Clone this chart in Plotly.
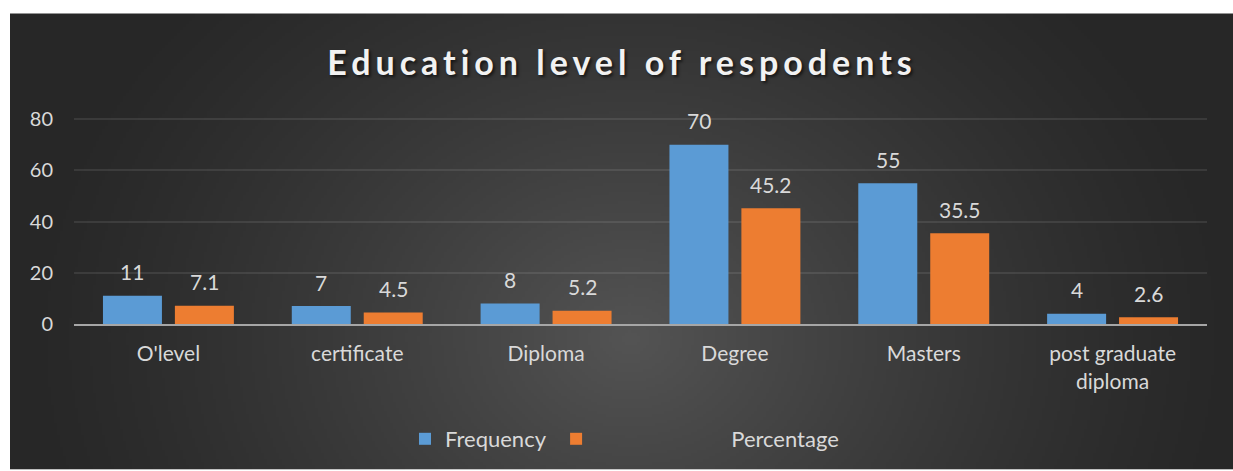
import base64, struct, zlib
import numpy as np
import plotly.graph_objects as go

categories = ["O'level", "certificate", "Diploma", "Degree", "Masters", "post graduate<br>diploma"]
frequency = [11, 7, 8, 70, 55, 4]
percentage = [7.1, 4.5, 5.2, 45.2, 35.5, 2.6]
y_ticks = [0, 20, 40, 60, 80]

W, H = 1233, 471
L, R, T, B = 74, 26, 118, 146
PW, PH = W - L - R, H - T - B
BARGAP = 0.238
BARGROUPGAP = 0.18
FONT = "Lato, Open Sans, sans-serif"

# ---- background gradient image (style only) ----
def make_png(arr):
    h, w, _ = arr.shape
    raw = b"".join(b"\x00" + arr[i].tobytes() for i in range(h))
    def chunk(t, d):
        c = struct.pack(">I", len(d)) + t + d
        return c + struct.pack(">I", zlib.crc32(t + d) & 0xffffffff)
    png = b"\x89PNG\r\n\x1a\n" + chunk(b"IHDR", struct.pack(">IIBBBBB", w, h, 8, 2, 0, 0, 0))
    png += chunk(b"IDAT", zlib.compress(raw, 9)) + chunk(b"IEND", b"")
    return "data:image/png;base64," + base64.b64encode(png).decode()

bx0, by0, bx1, by1 = 10, 13, W, H
gw, gh = (bx1 - bx0) // 3, (by1 - by0) // 3
xs = np.linspace(bx0, bx1, gw)
ys = np.linspace(by0, by1, gh)
X, Y = np.meshgrid(xs, ys)
dx = (X - 630) / 620.0
dy = (Y - 340) / 520.0
r = np.clip(np.sqrt(dx ** 2 + dy ** 2), 0, 1)
val = 0x27 + (0x54 - 0x27) * (1 - r) ** 1.3
img = np.repeat(val[:, :, None], 3, axis=2).astype(np.uint8)
bg_src = make_png(img)

def px2x(px):
    return (px - L) / PW
def py2y(py):
    return (H - B - py) / PH

fig = go.Figure()
fig.add_trace(go.Bar(x=categories, y=frequency, name="Frequency" + "\u00a0",
                     marker=dict(color="#5b9bd5", line=dict(width=0))))
fig.add_trace(go.Bar(x=categories, y=percentage,
                     name="\u00a0" * 24 + "Percentage",
                     marker=dict(color="#ed7d31", line=dict(width=0))))

label_font = dict(family=FONT, size=21, color="#d9d9d9")
slot = PW / len(categories) * (1 - BARGAP) / 2
annotations = []
for i, c in enumerate(categories):
    for v, sh in ((frequency[i], -slot / 2), (percentage[i], slot / 2)):
        annotations.append(dict(x=c, y=v, xref="x", yref="y", text=str(v), showarrow=False,
                                xshift=sh, yshift=24, yanchor="middle", font=label_font))

fig.update_layout(
    width=W, height=H,
    margin=dict(l=L, r=R, t=T, b=B, pad=0),
    paper_bgcolor="white", plot_bgcolor="rgba(0,0,0,0)",
    barmode="group", bargap=BARGAP, bargroupgap=BARGROUPGAP,
    images=[dict(source=bg_src, xref="paper", yref="paper",
                 x=px2x(bx0), y=py2y(by0), sizex=px2x(bx1) - px2x(bx0), sizey=py2y(by0) - py2y(by1),
                 xanchor="left", yanchor="top", sizing="stretch", layer="below")],
    title=dict(text="<span style=\"letter-spacing:5px\">Education level of respodents</span>",
               x=622 / W, xref="container", xanchor="center",
               y=1 - 63 / H, yref="container", yanchor="middle",
               font=dict(family=FONT, size=34, color="#f2f2f2",
                         weight="bold", shadow="2px 2px 3px rgba(0,0,0,0.6)")),
    xaxis=dict(showgrid=False, showline=True, linecolor="#a6a6a6", linewidth=2,
               ticks="", tickfont=dict(family=FONT, size=21, color="#d9d9d9"),
               ticklabelstandoff=10),
    yaxis=dict(range=[0, 80.5], tickvals=y_ticks, showgrid=True, gridcolor="rgba(255,255,255,0.09)",
               gridwidth=1.5, zeroline=False, showline=False, ticks="",
               tickfont=dict(family=FONT, size=20, color="#d9d9d9"),
               ticklabelstandoff=20),
    legend=dict(orientation="h", x=px2x(405), xanchor="left", y=py2y(439), yanchor="middle",
                font=dict(family=FONT, size=22, color="#d9d9d9"),
                bgcolor="rgba(0,0,0,0)", itemclick=False),
    annotations=annotations,
    showlegend=True,
)

fig.write_html("out.html")
